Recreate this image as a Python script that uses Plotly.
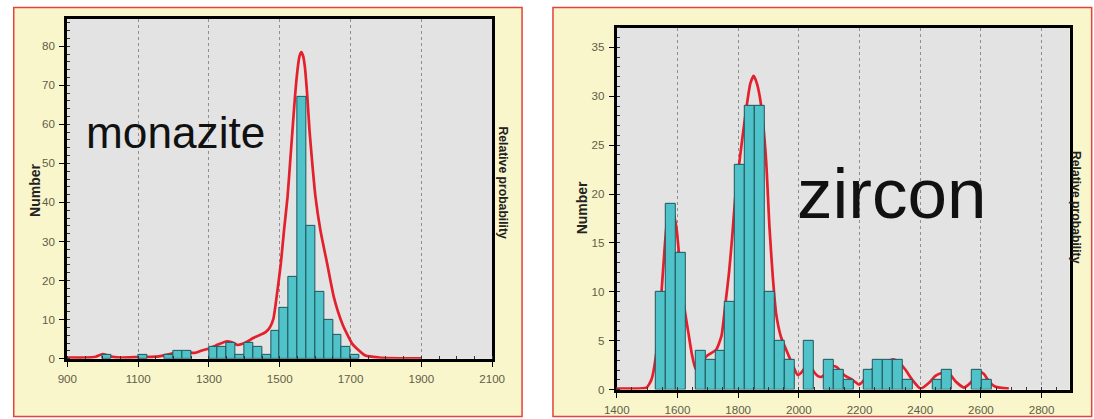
import plotly.graph_objects as go

# ---------------- data ----------------
# Monazite histogram (bin left edges, counts), bin width 25 Ma
mon_bin_left = [1000, 1100, 1175, 1200, 1225, 1300, 1325, 1350, 1375, 1400, 1425, 1450,
                1475, 1500, 1525, 1550, 1575, 1600, 1625, 1650, 1675, 1700]
mon_counts = [1, 1, 1, 2, 2, 3, 3, 4, 1, 4, 3, 1,
              7, 13, 21, 67, 34, 17, 10, 6, 3, 1]
mon_bin_width = 25

# Monazite relative probability curve (scaled to Number axis)
mon_curve_x = [900, 950, 980, 1000, 1020, 1050, 1100, 1150, 1180, 1202,
               1225, 1240, 1260, 1280, 1300, 1320, 1348, 1365, 1381, 1395,
               1409, 1425, 1440, 1460, 1472, 1482, 1491, 1503, 1512, 1522,
               1529, 1536, 1543, 1550, 1556, 1561, 1566, 1571, 1578, 1584,
               1592, 1601, 1615, 1634, 1653, 1677, 1705, 1742, 1780, 1840, 1900]
mon_curve_y = [0.3, 0.3, 0.5, 1.2, 0.6, 0.3, 0.4, 0.5, 1.0, 1.4,
               1.6, 1.6, 1.5, 2.1, 2.6, 3.4, 4.4, 4.2, 3.5, 3.8,
               4.4, 5.3, 5.9, 6.8, 8.0, 10.2, 15.7, 24.3, 32.8, 41.4,
               49.9, 58.5, 67.0, 73.8, 77.5, 78.5, 77.5, 74.7, 67.0, 58.5,
               49.9, 41.4, 32.8, 24.3, 15.7, 8.9, 3.8, 0.8, 0.3, 0.1, 0.05]

# Zircon histogram (bin left edges, counts), bin width 32.5 Ma
zir_bin_left = [1530, 1562.5, 1595, 1660, 1692.5, 1725, 1757.5, 1790, 1822.5, 1855,
                1887.5, 1920, 1952.5, 2017.5, 2082.5, 2115, 2147.5, 2212.5, 2245, 2277.5,
                2310, 2342.5, 2440, 2472.5, 2570, 2602.5]
zir_counts = [10, 19, 14, 4, 3, 4, 9, 23, 29, 29,
              10, 5, 3, 5, 3, 2, 1, 2, 3, 3,
              3, 1, 1, 2, 2, 1]
zir_bin_width = 32.5

# Zircon relative probability curve (scaled to Number axis)
zir_curve_x = [1400, 1450, 1498, 1514, 1530, 1547, 1558, 1566, 1578, 1590,
               1598, 1606, 1616, 1627, 1636, 1647, 1660, 1672, 1695, 1728,
               1745, 1757, 1770, 1780, 1790, 1803, 1815, 1828, 1840, 1851,
               1862, 1876, 1892, 1903, 1914, 1925, 1941, 1958, 1977, 1996,
               2007, 2020, 2035, 2050, 2062, 2075, 2090, 2111, 2125, 2149,
               2176, 2199, 2215, 2240, 2270, 2300, 2312, 2330, 2352, 2374,
               2401, 2429, 2450, 2470, 2485, 2500, 2516, 2544, 2566, 2585,
               2597, 2610, 2626, 2648, 2692]
zir_curve_y = [0.1, 0.1, 0.2, 1.0, 3.7, 9.8, 14.6, 17.3, 18.3, 17.6,
               16.2, 13.5, 10.0, 7.5, 5.8, 3.7, 2.1, 2.3, 3.4, 4.1,
               5.5, 8.5, 12.0, 15.5, 19.5, 23.0, 26.0, 29.0, 31.3, 32.1,
               31.3, 29.0, 23.5, 16.7, 11.6, 7.8, 5.4, 4.1, 2.7, 1.5,
               1.7, 2.2, 2.5, 1.8, 1.4, 1.3, 1.7, 2.4, 2.3, 1.5,
               1.0, 0.5, 1.0, 2.0, 2.7, 3.0, 3.1, 2.8, 2.0, 1.0,
               0.1, 0.7, 1.4, 1.7, 1.8, 1.5, 0.85, 0.2, 0.7, 1.6,
               1.8, 1.6, 0.85, 0.3, 0.1]

mon_xticks = [900, 1100, 1300, 1500, 1700, 1900, 2100]
mon_yticks = [0, 10, 20, 30, 40, 50, 60, 70, 80]
zir_xticks = [1400, 1600, 1800, 2000, 2200, 2400, 2600, 2800]
zir_yticks = [0, 5, 10, 15, 20, 25, 30, 35]

# ---------------- style ----------------
FW, FH = 1094, 428
SX, X_PAD = 0.979, 11.5    # the photographed page comes out slightly reduced and centred
SY, Y_PAD = 0.988, -0.9
BAR_FILL = "#4FC3C9"
BAR_LINE = "#1F565B"
CURVE = "#E3202B"
PANEL_BG = "#FAF6CB"
PANEL_BORDER = "#E2433C"
PLOT_BG = "#E3E3E3"
TICK_COLOR = "#5E5E48"
FONT = "Liberation Sans"


def px(t):
    """target picture x (px) -> paper fraction"""
    return ((t - X_PAD) / SX) / FW


def py(t):
    """target picture y (px) -> paper fraction"""
    return 1 - ((t - Y_PAD) / SY) / FH


fig = go.Figure()

# curves on base axes (drawn beneath the bars which sit on overlay axes)
fig.add_trace(go.Scatter(x=mon_curve_x, y=mon_curve_y, mode="lines",
                         line=dict(color=CURVE, width=2.7, shape="spline", smoothing=0.5),
                         xaxis="x", yaxis="y", hoverinfo="skip", showlegend=False))
fig.add_trace(go.Scatter(x=zir_curve_x, y=zir_curve_y, mode="lines",
                         line=dict(color=CURVE, width=2.7, shape="spline", smoothing=0.5),
                         xaxis="x2", yaxis="y2", hoverinfo="skip", showlegend=False))

fig.add_trace(go.Bar(x=[l + mon_bin_width / 2 for l in mon_bin_left], y=mon_counts,
                     width=mon_bin_width,
                     marker=dict(color=BAR_FILL, line=dict(color=BAR_LINE, width=1)),
                     xaxis="x3", yaxis="y3", showlegend=False))
fig.add_trace(go.Bar(x=[l + zir_bin_width / 2 for l in zir_bin_left], y=zir_counts,
                     width=zir_bin_width,
                     marker=dict(color=BAR_FILL, line=dict(color=BAR_LINE, width=1)),
                     xaxis="x4", yaxis="y4", showlegend=False))

tickfont = dict(family=FONT, size=11.6, color=TICK_COLOR)

mon_xrange = [900, 2100]
mon_yrange = [0, 87]
zir_xrange = [1400, 2892]
zir_yrange = [0, 37]

dom_x1 = [px(66), px(492)]
dom_y1 = [py(358.5), py(18)]
dom_x2 = [px(617), px(1071)]
dom_y2 = [py(389.5), py(27)]

common_x = dict(showline=True, linecolor="black", linewidth=3, mirror=True,
                showgrid=True, gridcolor="#8E8E8E", griddash="3px,3px", gridwidth=1,
                ticks="outside", ticklen=5, tickcolor="black", tickwidth=1,
                tickfont=tickfont, zeroline=False, ticklabelstandoff=2)
common_y = dict(showline=True, linecolor="black", linewidth=3, mirror=True,
                showgrid=False, ticks="outside", ticklen=5, tickcolor="black",
                tickwidth=1, tickfont=tickfont, zeroline=False, ticklabelstandoff=2)

fig.update_layout(
    width=FW, height=FH, autosize=False,
    margin=dict(l=0, r=0, t=0, b=0),
    paper_bgcolor="white", plot_bgcolor="rgba(0,0,0,0)",
    barmode="overlay", bargap=0,
    xaxis=dict(domain=dom_x1, range=mon_xrange, tickvals=mon_xticks,
               minor=dict(dtick=50, ticks="inside", ticklen=3, tickcolor="#333", showgrid=False),
               anchor="y", **common_x),
    yaxis=dict(domain=dom_y1, range=mon_yrange, tickvals=mon_yticks,
               minor=dict(dtick=2, ticks="inside", ticklen=3, tickcolor="#333"),
               anchor="x", **common_y),
    xaxis2=dict(domain=dom_x2, range=zir_xrange, tickvals=zir_xticks,
                minor=dict(dtick=50, ticks="inside", ticklen=3, tickcolor="#333", showgrid=False),
                anchor="y2", **common_x),
    yaxis2=dict(domain=dom_y2, range=zir_yrange, tickvals=zir_yticks,
                minor=dict(dtick=1, ticks="inside", ticklen=3, tickcolor="#333"),
                anchor="x2", **common_y),
    xaxis3=dict(overlaying="x", range=mon_xrange, visible=False, anchor="y3"),
    yaxis3=dict(overlaying="y", range=mon_yrange, visible=False, anchor="x3"),
    xaxis4=dict(overlaying="x2", range=zir_xrange, visible=False, anchor="y4"),
    yaxis4=dict(overlaying="y2", range=zir_yrange, visible=False, anchor="x4"),
)

# panel backgrounds and plot-area backgrounds
shapes = [
    dict(type="rect", xref="paper", yref="paper", x0=0.75 / FW, x1=px(522), y0=py(416.5), y1=py(6.5),
         fillcolor=PANEL_BG, line=dict(color=PANEL_BORDER, width=1.5), layer="below"),
    dict(type="rect", xref="paper", yref="paper", x0=px(553), x1=1.01, y0=py(416.5), y1=py(6.5),
         fillcolor=PANEL_BG, line=dict(color=PANEL_BORDER, width=1.5), layer="below"),
    dict(type="rect", xref="x domain", yref="y domain", x0=0, x1=1, y0=0, y1=1,
         fillcolor=PLOT_BG, line=dict(width=0), layer="below"),
    dict(type="rect", xref="x2 domain", yref="y2 domain", x0=0, x1=1, y0=0, y1=1,
         fillcolor=PLOT_BG, line=dict(width=0), layer="below"),
]
fig.update_layout(shapes=shapes)

num_font = dict(family=FONT, size=14, color="#222222")
rel_font = dict(family=FONT, size=12.2, color="#222222")
annotations = [
    dict(text="<b>Number</b>", x=px(33), y=py(190), xref="paper", yref="paper",
         xanchor="center", yanchor="middle", textangle=-90, showarrow=False, font=num_font),
    dict(text="<b>Relative probability</b>", x=px(503), y=py(182), xref="paper", yref="paper",
         xanchor="center", yanchor="middle", textangle=90, showarrow=False, font=rel_font),
    dict(text="<b>Number</b>", x=px(583), y=py(207), xref="paper", yref="paper",
         xanchor="center", yanchor="middle", textangle=-90, showarrow=False, font=num_font),
    dict(text="<b>Relative probability</b>", x=px(1077), y=py(207), xref="paper", yref="paper",
         xanchor="center", yanchor="middle", textangle=90, showarrow=False, font=rel_font),
    dict(text="monazite", x=px(83), y=py(132), xref="paper", yref="paper",
         xanchor="left", yanchor="middle", showarrow=False,
         font=dict(family=FONT, size=44.2, color="#111111")),
    dict(text="zircon", x=px(796), y=py(193), xref="paper", yref="paper",
         xanchor="left", yanchor="middle", showarrow=False,
         font=dict(family=FONT, size=71, color="#111111")),
]
fig.update_layout(annotations=annotations)

# remove the default page margin so the figure sits at the window origin
page_fix = ("document.body.style.margin='0';document.body.style.padding='0';"
            "document.documentElement.style.overflow='hidden';")
fig.write_html("out.html", post_script=page_fix, config={"displayModeBar": False})
